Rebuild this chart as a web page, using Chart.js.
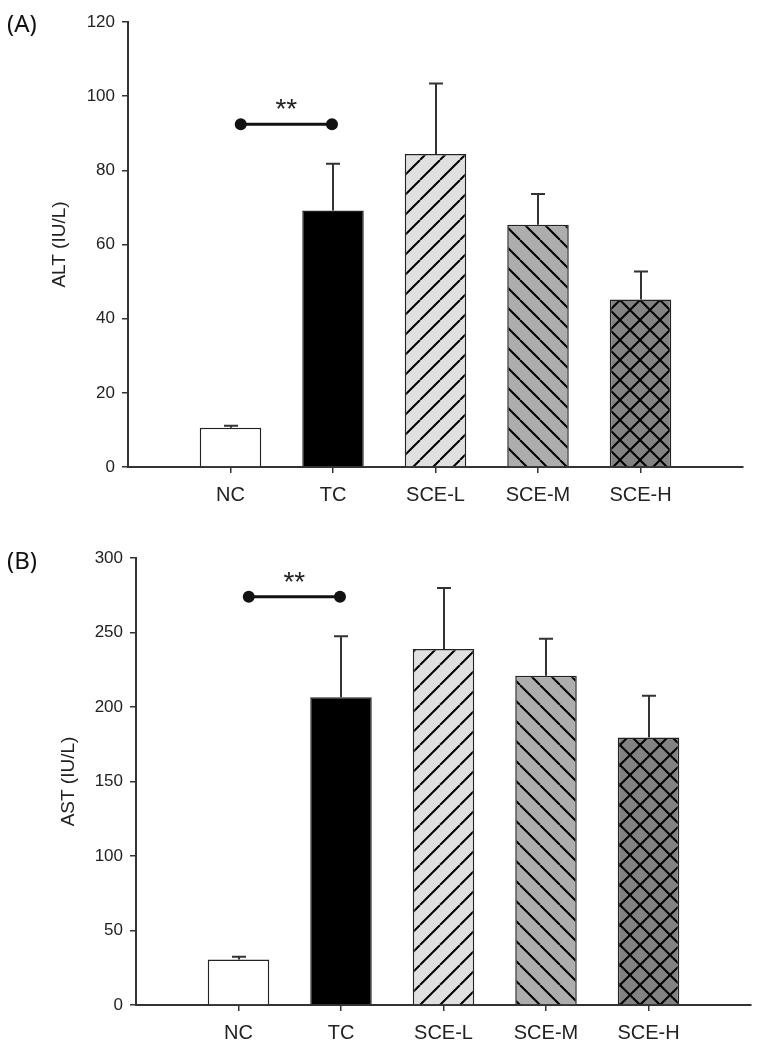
<!DOCTYPE html>
<html><head><meta charset="utf-8">
<script src="https://cdn.jsdelivr.net/npm/chart.js@4.4.0/dist/chart.umd.min.js"></script>
<style>
html,body{margin:0;padding:0;background:#fff;}
#wrap{position:relative;width:762px;height:1049px;overflow:hidden;background:#fff;}
.pane{position:absolute;left:0;width:762px;}
.lab{position:absolute;left:7px;font-family:"Noto Sans";font-size:24px;line-height:24px;color:#111;}
</style></head><body>
<div id="wrap">
<div class="pane" style="top:0;height:525px"><canvas id="c1" width="762" height="525"></canvas></div>
<div class="pane" style="top:525px;height:524px"><canvas id="c2" width="762" height="524"></canvas></div>
<div class="lab" style="top:11px">(A)</div>
<div class="lab" style="top:548px">(B)</div>
</div>
<script>
// ---- data ----
const categories = ['NC', 'TC', 'SCE-L', 'SCE-M', 'SCE-H'];
const altMean = [10.6, 69.2, 84.4, 65.3, 45.2];
const altErr  = [0.5, 12.6, 19.0, 8.3, 7.5];
const astMean = [30.6, 206.5, 239.0, 221.0, 179.5];
const astErr  = [1.8, 41.0, 40.8, 24.8, 28.0];
const altTicks = [0, 20, 40, 60, 80, 100, 120];
const astTicks = [0, 50, 100, 150, 200, 250, 300];
const altSigLevel = 92.4;
const astSigLevel = 274;
const sigLabel = '**';

// ---- patterns ----
function makePattern(bg, kind) {
  const s = 20;
  const c = document.createElement('canvas');
  c.width = s; c.height = s;
  const g = c.getContext('2d');
  g.fillStyle = bg; g.fillRect(0, 0, s, s);
  g.strokeStyle = '#000'; g.lineWidth = 2;
  g.beginPath();
  if (kind === 'fwd' || kind === 'cross') {
    for (let k = -1; k <= 1; k++) { g.moveTo(k * s, s); g.lineTo(k * s + s, 0); }
  }
  if (kind === 'back' || kind === 'cross') {
    for (let k = -1; k <= 1; k++) { g.moveTo(k * s, 0); g.lineTo(k * s + s, s); }
  }
  g.stroke();
  return g.createPattern(c, 'repeat');
}
const fills = ['#ffffff', '#000000', makePattern('#e0e0e0', 'fwd'), makePattern('#adadad', 'back'), makePattern('#828282', 'cross')];

const FONT = '"Liberation Sans", Arial, sans-serif';

function annot(means, errs, sigY) {
  return {
    id: 'annot',
    afterDatasetsDraw(chart) {
      const {ctx, scales: {x, y}} = chart;
      ctx.save();
      ctx.strokeStyle = '#333'; ctx.lineWidth = 2;
      means.forEach((m, i) => {
        const px = Math.round(x.getPixelForValue(i + 1));
        const y0 = y.getPixelForValue(m), y1 = y.getPixelForValue(m + errs[i]);
        ctx.beginPath();
        ctx.moveTo(px, y0); ctx.lineTo(px, y1);
        ctx.moveTo(px - 7, y1); ctx.lineTo(px + 7, y1);
        ctx.stroke();
      });
      const xa = x.getPixelForValue(1.1), xb = x.getPixelForValue(1.99), ys = y.getPixelForValue(sigY);
      ctx.strokeStyle = '#111'; ctx.fillStyle = '#111'; ctx.lineWidth = 3;
      ctx.beginPath(); ctx.moveTo(xa, ys); ctx.lineTo(xb, ys); ctx.stroke();
      [xa, xb].forEach(p => { ctx.beginPath(); ctx.arc(p, ys, 6, 0, Math.PI * 2); ctx.fill(); });
      ctx.font = '28px ' + FONT; ctx.textAlign = 'center'; ctx.textBaseline = 'alphabetic';
      ctx.fillStyle = '#222';
      ctx.fillText(sigLabel, (xa + xb) / 2, ys - 6);
      ctx.restore();
    }
  };
}

function makeChart(id, means, errs, ticks, title, sigY, yW, pad, titlePad) {
  return new Chart(document.getElementById(id), {
    type: 'bar',
    data: {
      datasets: [{
        data: means.map((v, i) => ({x: i + 1, y: v})),
        backgroundColor: fills,
        borderColor: '#222',
        borderWidth: 1.5,
        barPercentage: 0.6,
        categoryPercentage: 1.0
      }]
    },
    options: {
      responsive: false,
      animation: false,
      layout: {padding: pad},
      plugins: {legend: {display: false}, tooltip: {enabled: false}},
      scales: {
        x: {
          type: 'linear', min: 0, max: 6, offset: false,
          afterBuildTicks(s) { s.ticks = categories.map((c, i) => ({value: i + 1})); },
          ticks: {
            autoSkip: false, maxRotation: 0, minRotation: 0,
            callback: (v, i) => categories[i],
            color: '#222', font: {family: FONT, size: 20}, padding: 10
          },
          grid: {offset: false, drawOnChartArea: false, drawTicks: true, tickLength: 6, color: '#333', lineWidth: 1.5},
          border: {display: true, color: '#333', width: 2},
          afterFit(s) { s.height = 40; }
        },
        y: {
          min: ticks[0], max: ticks[ticks.length - 1],
          afterBuildTicks(s) { s.ticks = ticks.map(v => ({value: v})); },
          ticks: {color: '#222', font: {family: FONT, size: 17}, padding: 7},
          grid: {drawOnChartArea: false, drawTicks: true, tickLength: 6, color: '#333', lineWidth: 1.5},
          border: {display: true, color: '#333', width: 2},
          title: {display: true, text: title, color: '#222', font: {family: FONT, size: 19}, padding: {top: titlePad, bottom: 0}},
          afterFit(s) { s.width = yW; }
        }
      }
    },
    plugins: [annot(means, errs, sigY)]
  });
}

makeChart('c1', altMean, altErr, altTicks, 'ALT (IU/L)', altSigLevel, 128, {left: 0, top: 22, right: 19, bottom: 18}, 48);
makeChart('c2', astMean, astErr, astTicks, 'AST (IU/L)', astSigLevel, 136, {left: 0, top: 33, right: 11, bottom: 4}, 57);
</script>
</body></html>
